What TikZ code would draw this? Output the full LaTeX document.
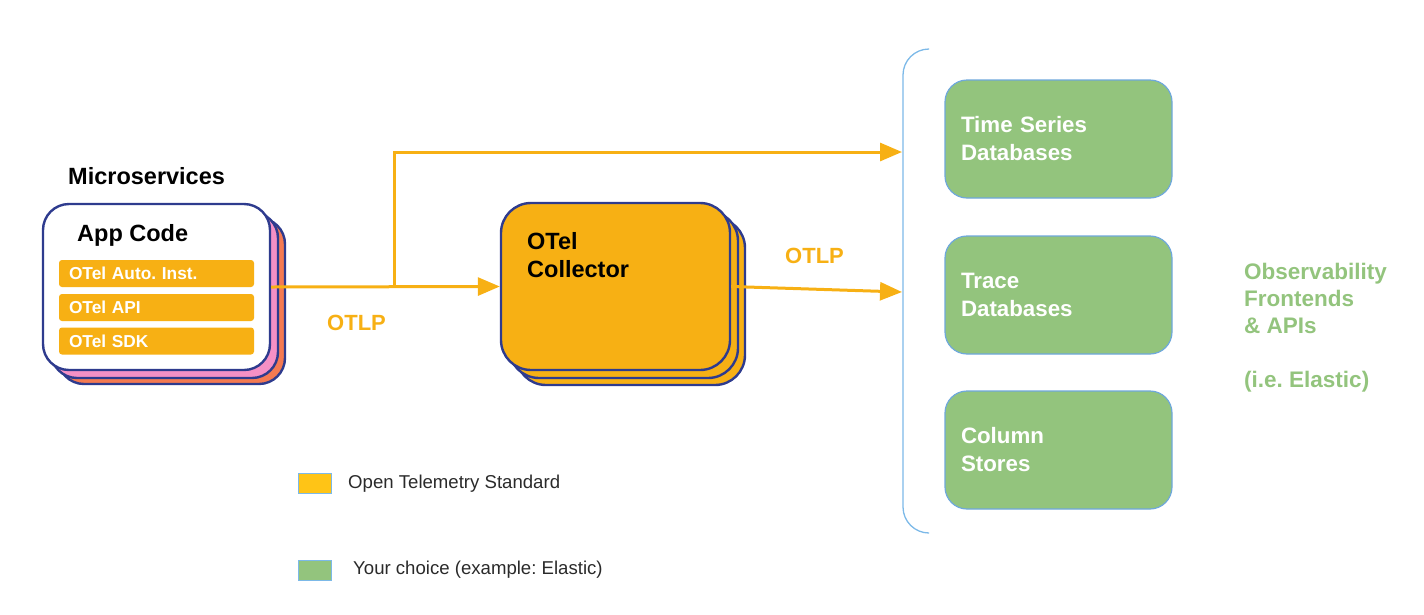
\documentclass[tikz,border=0pt]{standalone}
\usepackage{fontspec}
\setmainfont{Liberation Sans}
\usetikzlibrary{arrows.meta}
\frenchspacing
\definecolor{navy}{HTML}{2E3B8E}
\definecolor{otel}{HTML}{F7B014}
\definecolor{pinkc}{HTML}{F590C5}
\definecolor{salmon}{HTML}{F47A52}
\definecolor{grn}{HTML}{93C47D}
\definecolor{gborder}{HTML}{6FA8DC}
\definecolor{brk}{HTML}{7CB9E8}
\definecolor{legy}{HTML}{FFC416}
\definecolor{legtext}{HTML}{2A2A2A}
\tikzset{
  stackbox/.style={draw=navy, line width=2.4pt, rounded corners=26pt, minimum width=227pt, minimum height=166pt, inner sep=0pt},
  collbox/.style={stackbox, fill=otel, rounded corners=30pt, minimum width=229pt, minimum height=167pt},
  barbox/.style={fill=otel, rounded corners=3pt, minimum width=195pt, minimum height=27pt, inner xsep=10pt, inner ysep=0pt, text width=175pt, align=left, text=white, font=\bfseries\fontsize{17.3}{19}\selectfont},
  dbbox/.style={draw=gborder, line width=1.2pt, fill=grn, rounded corners=22pt, minimum width=227pt, minimum height=118pt, inner xsep=16pt, text width=195pt, align=left, text=white, font=\bfseries\fontsize{22.3}{28}\selectfont},
  flow/.style={draw=otel, line width=3pt, -{Triangle[length=22pt,width=18pt]}},
  otlp/.style={text=otel, font=\bfseries\fontsize{22}{24}\selectfont, inner sep=0pt},
  title/.style={font=\bfseries\fontsize{23.5}{28}\selectfont, inner sep=0pt, align=left},
  legsq/.style={draw=brk, line width=1pt, minimum width=33pt, minimum height=20pt, inner sep=0pt},
  legtxt/.style={text=legtext, font=\fontsize{18.6}{20}\selectfont, inner sep=0pt, anchor=west}
}
\begin{document}
\begin{tikzpicture}[x=1pt,y=-1pt]
\useasboundingbox (0,0) rectangle (1424,614);
% Microservices stack
\node[title, anchor=west] (micro) at (68,176) {Microservices};
\node[stackbox, fill=salmon] (app3) at (171.5,301) {};
\node[stackbox, fill=pinkc] (app2) at (164.5,295) {};
\node[stackbox, fill=white] (app) at (156.5,287) {};
\node[title, anchor=west] (appcode) at (77,235) {App Code};
\node[barbox] (b1) at (156.5,273.5) {OTel Auto. Inst.};
\node[barbox] (b2) at (156.5,307.5) {OTel API};
\node[barbox] (b3) at (156.5,341) {OTel SDK};
% Collector stack
\node[collbox] (coll3) at (630.5,301.5) {};
\node[collbox] (coll2) at (623.5,294.5) {};
\node[collbox] (coll) at (615.5,286.5) {};
\node[title, anchor=north west] (colltxt) at (527,232) {OTel\\Collector};
% bracket
\draw[brk, line width=1.3pt, rounded corners=26pt] (928,49) -- (903,49) -- (903,533) -- (928,533);
\coordinate (in1) at (902,152);
\coordinate (in2) at (902,292);
\coordinate (br) at (394,287);
% flows
\draw[flow] (app.east) -- (coll.west);
\draw[flow] (br) |- (in1);
\draw[flow] (coll.east) -- (in2);
\node[otlp, anchor=west] (otlp1) at (327,323) {OTLP};
\node[otlp, anchor=west] (otlp2) at (785,256) {OTLP};
% databases
\node[dbbox] (ts) at (1058.5,139) {Time Series\\Databases};
\node[dbbox] (tr) at (1058.5,295) {Trace\\Databases};
\node[dbbox] (cs) at (1058.5,450) {Column\\Stores};
% frontends
\node[text=grn, font=\bfseries\fontsize{22.5}{27}\selectfont, align=left, anchor=north west, inner sep=0pt] (fe) at (1244,263) {Observability\\Frontends\\\& APIs\\[27pt](i.e. Elastic)};
% legend
\node[legsq, fill=legy] (l1) at (314.5,483) {};
\node[legtxt] (l1t) at (348,484) {Open Telemetry Standard};
\node[legsq, fill=grn] (l2) at (314.5,570) {};
\node[legtxt] (l2t) at (353,570) {Your choice (example: Elastic)};
\end{tikzpicture}
\end{document}
